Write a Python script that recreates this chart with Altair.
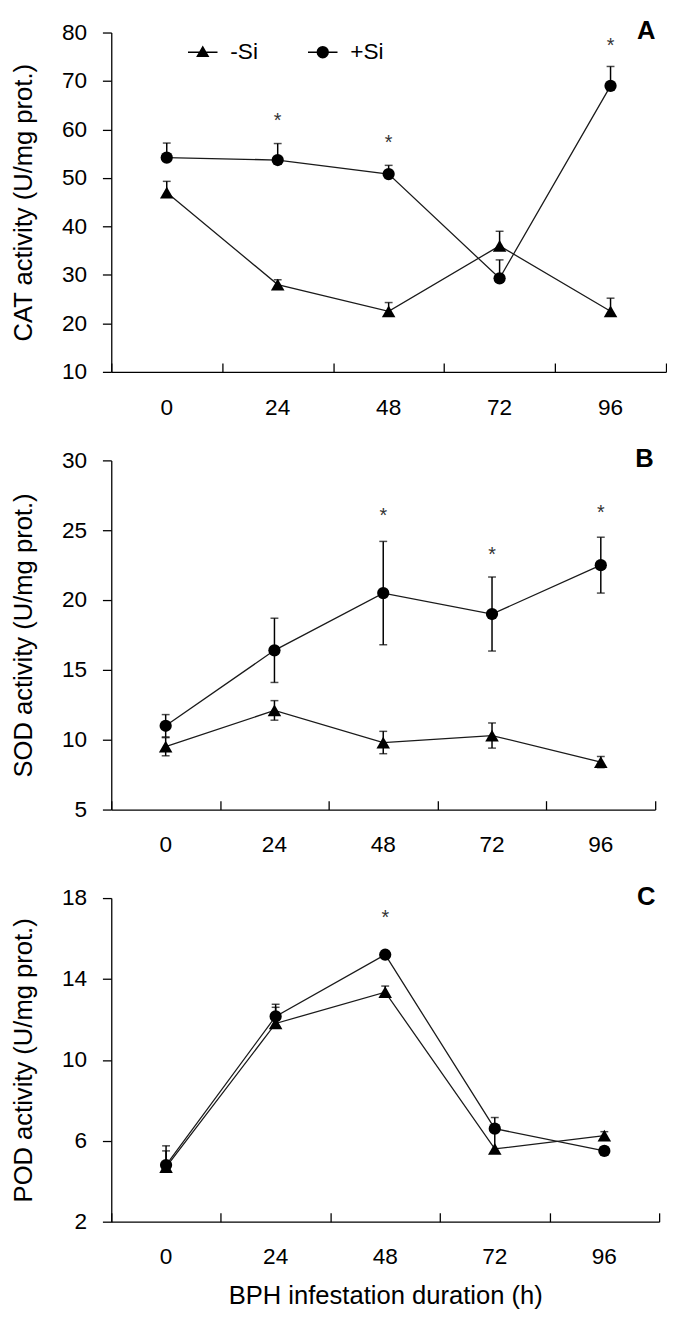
import altair as alt
import pandas as pd

times = ["0", "24", "48", "72", "96"]
series_names = ["-Si", "+Si"]

cat_minus = [47.0, 28.0, 22.5, 36.0, 22.5]
cat_minus_err = [2.3, 1.0, 1.8, 3.0, 2.7]
cat_plus = [54.2, 53.7, 50.8, 29.3, 69.0]
cat_plus_err = [3.0, 3.4, 1.8, 3.8, 4.0]
cat_star_times = ["24", "48", "96"]
cat_star_y = [61.7, 57.2, 77.2]

sod_minus = [9.5, 12.1, 9.8, 10.3, 8.4]
sod_minus_err = [0.65, 0.7, 0.8, 0.9, 0.4]
sod_plus = [11.0, 16.4, 20.5, 19.0, 22.5]
sod_plus_err = [0.8, 2.3, 3.7, 2.65, 2.0]
sod_star_times = ["48", "72", "96"]
sod_star_y = [26.0, 23.2, 26.2]

pod_minus = [4.7, 11.8, 13.35, 5.6, 6.25]
pod_minus_err = [0.8, 0.8, 0.3, 0.9, 0.2]
pod_plus = [4.8, 12.15, 15.2, 6.6, 5.5]
pod_plus_err = [0.95, 0.6, 0.2, 0.55, 0.2]
pod_star_times = ["48"]
pod_star_y = [17.0]

FONT = "Liberation Sans"
# legend symbols: a short line with the marker on it (filled shapes only)
TRI_LEG = "M-1,-0.05H1V0.05H-1ZM0,-0.45L0.45,0.33L-0.45,0.33Z"
CIR_LEG = ("M-1,-0.05H1V0.05H-1Z"
           "M0.42,0L0.388,0.161L0.297,0.297L0.161,0.388L0,0.42L-0.161,0.388"
           "L-0.297,0.297L-0.388,0.161L-0.42,0L-0.388,-0.161L-0.297,-0.297"
           "L-0.161,-0.388L0,-0.42L0.161,-0.388L0.297,-0.297L0.388,-0.161Z")


def make_panel(minus, minus_err, plus, plus_err, two_sided, star_t, star_y,
               ydomain, yticks, ytitle, letter, letter_dx, width, height, xtitle, legend):
    rows = []
    for name, vals, errs in (("-Si", minus, minus_err), ("+Si", plus, plus_err)):
        for t, v, e in zip(times, vals, errs):
            rows.append({"t": t, "series": name, "series_lg": name, "value": v,
                         "lo": v - e if two_sided else v, "hi": v + e})
    df = pd.DataFrame(rows)
    stars = pd.DataFrame({"t": star_t, "y": star_y, "s": ["*"] * len(star_t)})
    lab = pd.DataFrame({"t": [times[-1]], "lab": [letter]})

    xscale = alt.Scale(type="band", domain=times, paddingInner=0, paddingOuter=0)
    yscale = alt.Scale(domain=ydomain, nice=False, zero=False)

    main_x_axis = alt.Axis(orient="bottom", ticks=False, tickSize=0, labelPadding=25,
                           labelAngle=0, title=xtitle, titlePadding=14)
    tick_x_axis = alt.Axis(orient="bottom", offset=-9, tickSize=9, tickBand="extent",
                           domain=False, labels=False, title=None)
    y_axis = alt.Axis(orient="left", values=yticks, title=ytitle, tickSize=9,
                      labelPadding=16, titlePadding=26)

    X0 = alt.X("t:N", scale=xscale, axis=None)
    base = alt.Chart(df)
    lines = base.mark_line(color="#1a1a1a", strokeWidth=1.3).encode(
        x=alt.X("t:N", scale=xscale, axis=main_x_axis),
        y=alt.Y("value:Q", scale=yscale, axis=y_axis),
        detail="series:N",
    )
    rule = base.mark_rule(color="black", strokeWidth=1.5).encode(
        x=X0, y=alt.Y("lo:Q", scale=yscale, axis=None), y2="hi:Q",
    )
    cap_hi = base.mark_tick(color="black", size=8, thickness=1.5,
                            orient="horizontal").encode(
        x=X0, y=alt.Y("hi:Q", scale=yscale, axis=None),
    )
    layers = [lines, rule, cap_hi]
    if two_sided:
        cap_lo = base.mark_tick(color="black", size=8, thickness=1.5,
                                orient="horizontal").encode(
            x=X0, y=alt.Y("lo:Q", scale=yscale, axis=None),
        )
        layers.append(cap_lo)
    pts = base.mark_point(filled=True, color="black", opacity=1).encode(
        x=alt.X("t:N", scale=xscale, axis=tick_x_axis),
        y=alt.Y("value:Q", scale=yscale, axis=None),
        shape=alt.Shape("series:N", scale=alt.Scale(domain=series_names,
                                                     range=["triangle-up", "circle"]),
                        legend=None),
        size=alt.Size("series:N", scale=alt.Scale(domain=series_names, range=[190, 155]),
                      legend=None),
    )
    star = alt.Chart(stars).mark_text(fontSize=20, color="#333", font=FONT,
                                      baseline="middle").encode(
        x=X0,
        y=alt.Y("y:Q", scale=yscale, axis=None),
        text="s:N",
    )
    letter_mark = alt.Chart(lab).mark_text(fontSize=26, fontWeight="bold", font=FONT,
                                           color="black", align="center",
                                           baseline="middle", dx=letter_dx,
                                           dy=-1).encode(
        x=alt.X("t:N", scale=xscale, axis=None, bandPosition=1),
        y=alt.value(0),
        text="lab:N",
    )
    layers += [pts, star, letter_mark]
    if legend:
        leg = base.mark_point(filled=True, color="black", opacity=0).encode(
            x=X0,
            y=alt.Y("value:Q", scale=yscale, axis=None),
            shape=alt.Shape("series_lg:N",
                            scale=alt.Scale(domain=series_names, range=[TRI_LEG, CIR_LEG]),
                            legend=alt.Legend(orient="none", legendX=78, legendY=5,
                                              direction="horizontal", title=None,
                                              symbolSize=900, symbolFillColor="black",
                                              symbolStrokeColor="black",
                                              symbolStrokeWidth=0, symbolOpacity=1,
                                              labelFontSize=23, labelFont=FONT,
                                              labelColor="black", labelOffset=13,
                                              columnPadding=50, padding=0)),
        )
        layers.append(leg)
    return alt.layer(*layers).resolve_axis(
        x="independent", y="independent"
    ).resolve_scale(shape="independent", size="independent").resolve_legend(
        shape="independent"
    ).properties(width=width, height=height)


pA = make_panel(cat_minus, cat_minus_err, cat_plus, cat_plus_err, False,
                cat_star_times, cat_star_y, [10, 80], [10, 20, 30, 40, 50, 60, 70, 80],
                "CAT activity (U/mg prot.)", "A", -20, 564, 345, None, True)
pB = make_panel(sod_minus, sod_minus_err, sod_plus, sod_plus_err, True,
                sod_star_times, sod_star_y, [5, 30], [5, 10, 15, 20, 25, 30],
                "SOD activity (U/mg prot.)", "B", -11, 553, 355, None, False)
pC = make_panel(pod_minus, pod_minus_err, pod_plus, pod_plus_err, False,
                pod_star_times, pod_star_y, [2, 18], [2, 6, 10, 14, 18],
                "POD activity (U/mg prot.)", "C", -13, 557, 329,
                "BPH infestation duration (h)", False)

chart = alt.vconcat(pA, pB, pC, spacing=28).properties(
    padding={"left": 2, "top": 0, "right": 0, "bottom": 0}, background="white"
).configure_view(
    stroke=None
).configure_axis(
    domainColor="black", domainWidth=1.3, tickColor="black", tickWidth=1.3,
    labelColor="black", labelFont=FONT, labelFontSize=23, titleFont=FONT,
    titleFontSize=26, titleFontWeight="normal", titleColor="black", grid=False,
)

chart.save("out.html", embed_options={"renderer": "svg", "actions": False})
